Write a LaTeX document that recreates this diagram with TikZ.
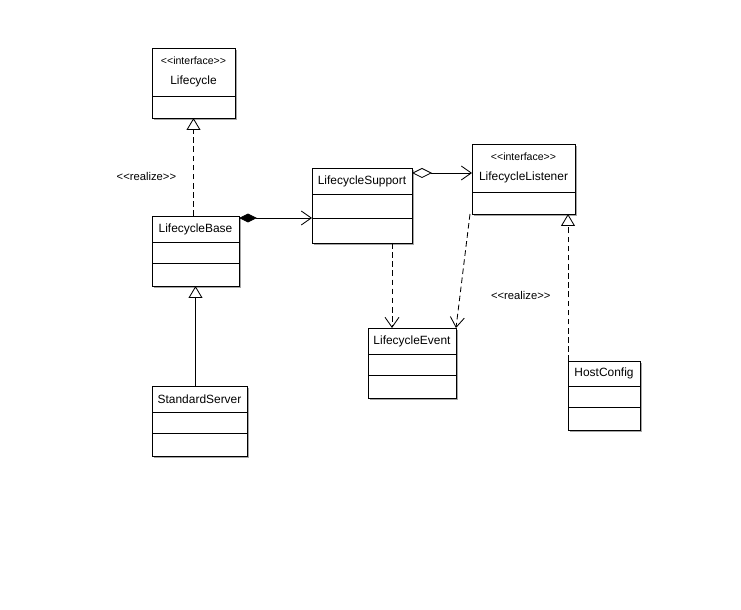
\documentclass[tikz,border=0pt]{standalone}
\usepackage{fontspec}
\setmainfont{Liberation Sans}
\usetikzlibrary{arrows.meta, positioning, shadows}

\newcommand{\stereo}[1]{{\fontsize{7.5}{9}\selectfont <{}<#1>{}>}}

\begin{document}
\begin{tikzpicture}[
    every node/.style={font=\fontsize{8.5}{10}\selectfont},
    cls/.style={draw, fill=white, anchor=north west, inner sep=1pt, outer sep=0pt, align=center,
                line width=0.6pt,
                drop shadow={shadow xshift=0.04cm, shadow yshift=-0.04cm, fill=black!35, opacity=1}},
    realize/.style={line width=0.6pt, dash pattern=on 4pt off 2.5pt,
                    -{Triangle[open, fill=white, length=0.3cm, width=0.35cm]}},
    extends/.style={line width=0.6pt, -{Triangle[open, fill=white, length=0.3cm, width=0.35cm]}},
    dep/.style={line width=0.6pt, dash pattern=on 4pt off 2.5pt,
                -{Straight Barb[length=0.25cm, width=0.35cm]}},
    compos/.style={line width=0.6pt,
                   {Diamond[length=0.45cm, width=0.22cm]}-{Straight Barb[length=0.25cm, width=0.35cm]}},
    aggr/.style={line width=0.6pt,
                 {Diamond[open, fill=white, length=0.5cm, width=0.25cm]}-{Straight Barb[length=0.25cm, width=0.35cm]}},
    note/.style={font=\fontsize{8}{10}\selectfont}
  ]
  \fill[white] (0,0) rectangle (18.525,-15.25);
  \useasboundingbox (0,0) rectangle (18.525,-15.25);

  \node[cls, minimum width=2.075cm, minimum height=1.2cm] (lc) at (3.8,-1.2) {\stereo{interface}\\[4pt]Lifecycle};
  \node[cls, minimum width=2.075cm, minimum height=0.55cm, below=0pt of lc] (lc-1) {};

  \node[cls, minimum width=2.175cm, minimum height=0.65cm] (lcb) at (3.8,-5.4) {LifecycleBase};
  \node[cls, minimum width=2.175cm, minimum height=0.525cm, below=0pt of lcb] (lcb-1) {};
  \node[cls, minimum width=2.175cm, minimum height=0.575cm, below=0pt of lcb-1] (lcb-2) {};

  \node[cls, minimum width=2.375cm, minimum height=0.65cm] (ss) at (3.8,-9.65) {StandardServer};
  \node[cls, minimum width=2.375cm, minimum height=0.525cm, below=0pt of ss] (ss-1) {};
  \node[cls, minimum width=2.375cm, minimum height=0.575cm, below=0pt of ss-1] (ss-2) {};

  \node[cls, minimum width=2.5cm, minimum height=0.65cm] (lcs) at (7.8,-4.2) {LifecycleSupport};
  \node[cls, minimum width=2.5cm, minimum height=0.6cm, below=0pt of lcs] (lcs-1) {};
  \node[cls, minimum width=2.5cm, minimum height=0.625cm, below=0pt of lcs-1] (lcs-2) {};

  \node[cls, minimum width=2.575cm, minimum height=1.2cm] (lll) at (11.8,-3.6) {\stereo{interface}\\[4pt]LifecycleListener};
  \node[cls, minimum width=2.575cm, minimum height=0.55cm, below=0pt of lll] (lll-1) {};

  \node[cls, minimum width=2.2cm, minimum height=0.65cm] (lce) at (9.2,-8.2) {LifecycleEvent};
  \node[cls, minimum width=2.2cm, minimum height=0.525cm, below=0pt of lce] (lce-1) {};
  \node[cls, minimum width=2.2cm, minimum height=0.575cm, below=0pt of lce-1] (lce-2) {};

  \node[cls, minimum width=1.8cm, minimum height=0.625cm] (hc) at (14.2,-9.025) {HostConfig};
  \node[cls, minimum width=1.8cm, minimum height=0.525cm, below=0pt of hc] (hc-1) {};
  \node[cls, minimum width=1.8cm, minimum height=0.575cm, below=0pt of hc-1] (hc-2) {};

  \draw[realize] (lc-1.south |- lcb.north) -- (lc-1.south);
  \draw[extends] (lcb-2.south |- ss.north) -- (lcb-2.south);
  \draw[compos] (lcs-1.south west -| lcb.east) -- (lcs-1.south west);
  \draw[aggr] ([yshift=-0.125cm]lcs.north east) -- ([yshift=-0.125cm]lcs.north east -| lll.west);
  \draw[dep] ([xshift=-0.5cm]lcs-2.south east) -- ([xshift=-0.5cm]lcs-2.south east |- lce.north);
  \draw[dep] ([xshift=-0.05cm]lll-1.south west) -- (lce.north east);
  \draw[realize] (hc.north west) -- (hc.north west |- lll-1.south);

  \node[note] (r1) at (3.66,-4.4) {<{}<realize>{}>};
  \node[note] (r2) at (13.02,-7.38) {<{}<realize>{}>};
\end{tikzpicture}
\end{document}
